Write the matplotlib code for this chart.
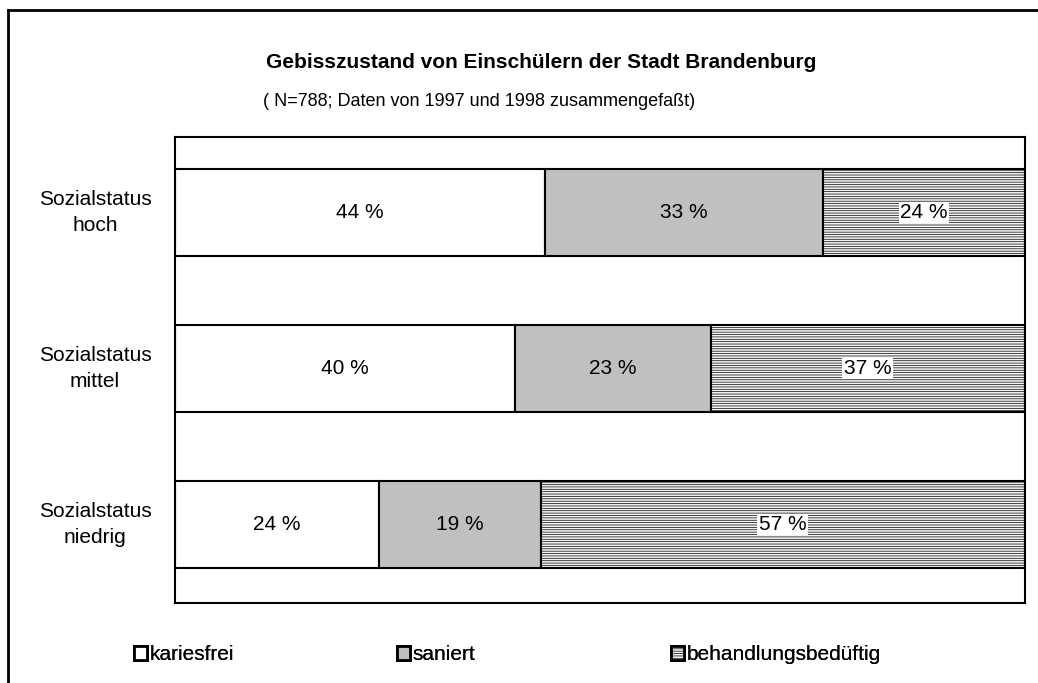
import numpy as np
import matplotlib
matplotlib.use("Agg")
import matplotlib.pyplot as plt
from matplotlib.patches import Patch
from matplotlib.lines import Line2D

plt.rcParams['font.family'] = ['Liberation Sans', 'DejaVu Sans']
plt.rcParams['hatch.color'] = '#c8c8c8'
plt.rcParams['hatch.linewidth'] = 0.5

# data
categories = ["Sozialstatus\nhoch", "Sozialstatus\nmittel", "Sozialstatus\nniedrig"]
series_names = ["kariesfrei", "saniert", "behandlungsbedüftig"]
kariesfrei = [44, 40, 24]
saniert = [33, 23, 19]
behandlung = [24, 37, 57]

title = "Gebisszustand von Einschülern der Stadt Brandenburg"
subtitle = "( N=788; Daten von 1997 und 1998 zusammengefaßt)"

colors = ["white", "#c0c0c0", "#f4f4f4"]
hatches = [None, None, "-------"]

fig = plt.figure(figsize=(10.38, 6.83), dpi=100)
ax = fig.add_axes([175 / 1038, 80 / 683, 850 / 1038, 466 / 683])

data = np.array([kariesfrei, saniert, behandlung], dtype=float)
totals = data.sum(axis=0)
shares = data / totals  # 100% stacked
y = np.arange(len(categories))

left = np.zeros(len(categories))
for i, name in enumerate(series_names):
    bars = ax.barh(y, shares[i], left=left, height=0.56, color=colors[i],
                   edgecolor="black", linewidth=1.5, hatch=hatches[i], label=name)
    for j, b in enumerate(bars):
        cx = left[j] + shares[i][j] / 2
        box = None
        if hatches[i]:
            box = dict(facecolor="white", edgecolor="none", pad=1.0)
        ax.text(cx, y[j], f"{int(data[i][j])} %", ha="center", va="center",
                fontsize=15, bbox=box)
    left += shares[i]

ax.set_xlim(0, 1)
ax.set_ylim(2.5 + 0.003, -0.484)
ax.set_xticks([])
ax.set_yticks([])
for s in ax.spines.values():
    s.set_linewidth(1.5)

for j, cat in enumerate(categories):
    ax.text(-80 / 850, y[j], cat, ha="center", va="center", fontsize=15,
            linespacing=1.45, transform=ax.get_yaxis_transform())

fig.text(541 / 1038, 1 - 62 / 683, title, ha="center", va="center",
         fontsize=15, fontweight="bold")
fig.text(263 / 1038, 1 - 102 / 683, subtitle, ha="left", va="center", fontsize=13)

# outer frame (top and left edges only visible)
fig.add_artist(Line2D([8 / 1038, 8 / 1038], [0, 1 - 10 / 683], color="black",
                      linewidth=2, transform=fig.transFigure))
fig.add_artist(Line2D([8 / 1038, 1], [1 - 10 / 683, 1 - 10 / 683], color="black",
                      linewidth=2, transform=fig.transFigure))

# legend entries spread along the bottom
leg_x = [134, 397, 671]
for i, name in enumerate(series_names):
    h = Patch(facecolor=colors[i], edgecolor="black", linewidth=2, hatch=hatches[i])
    leg = fig.legend([h], [name], loc="center left",
                     bbox_to_anchor=(leg_x[i] / 1038, 1 - 655 / 683),
                     frameon=False, fontsize=15, handlelength=0.6, handleheight=0.65,
                     handletextpad=0.15, borderpad=0, borderaxespad=0)
    fig.add_artist(leg)

fig.savefig("out.png", dpi=100)
